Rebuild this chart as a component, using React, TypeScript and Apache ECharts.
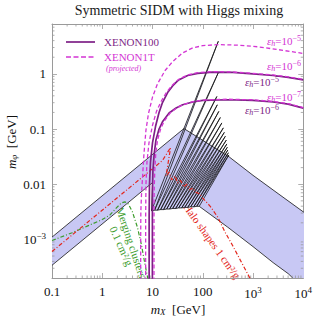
import React, { useEffect, useRef } from 'react';
import * as echarts from 'echarts';

const SERIF = '"Liberation Serif", "Times New Roman", Times, serif';
const FRAME = '#9a9a9a';
const BAND = '#c8c8f4';
const BAND_EDGE = '#151515';
const PURPLE = '#7e1f86';
const MAGENTA = '#d435d4';
const RED = '#e3261c';
const GREEN = '#3c9c2c';
const NAVY = '#262660';

const X_RANGE = [0.1, 1e4];
const Y_RANGE = [2e-4, 8];

const xTickValues = [0.1, 1, 10, 100, 1000, 10000];
const xTickLabels = ['0.1', '1', '10', '100', '{b|10}{s|3}', '{b|10}{s|4}'];
const yTickValues = [1e-3, 1e-2, 0.1, 1];
const yTickLabels = ['{b|10}{s|\u22123}', '0.01', '0.1', '1'];

// SIDM in dwarfs band (0.1 - 10 cm^2/g), [m_X GeV, m_phi GeV]
const bornUpper = [[0.1, 1.1e-3], [42.2, 0.102]];
const classicalUpper = [[42.2, 0.102], [340, 0.031], [1000, 0.0145], [3162, 6.76e-3], [10000, 3.16e-3], [12000, 2.8e-3]];
const bornLower = [[0.1, 3.4e-4], [10, 0.0107]];
// resonance spikes: lower vertices and tips
const spikeBases = [[9.55, 3.31e-3], [11.0, 3.39e-3], [12.6, 3.39e-3], [14.5, 3.47e-3], [16.6, 3.47e-3], [19.1, 3.55e-3], [21.9, 3.55e-3], [25.1, 3.63e-3], [28.8, 3.63e-3], [33.1, 3.72e-3], [38.0, 3.72e-3], [43.7, 3.8e-3], [50.1, 3.8e-3], [57.5, 3.89e-3], [66.1, 3.89e-3], [75.9, 3.98e-3], [85.1, 3.98e-3]];
const spikeTips = [[204, 3.89], [204, 1.05], [191, 0.389], [195, 0.275], [209, 0.209], [224, 0.162], [240, 0.129], [257, 0.105], [269, 0.0871], [282, 0.0741], [295, 0.0631], [302, 0.0537], [309, 0.0468], [316, 0.0417], [324, 0.0372], [331, 0.0339]];
const classicalLower = [[85.1, 3.98e-3], [316, 1.66e-3], [1000, 7.41e-4], [2512, 3.8e-4], [5012, 2.4e-4], [7079, 1.78e-4], [10000, 1.2e-4], [12000, 9e-5]];

// Halo shapes 1 cm^2/g
const haloShapes = [[0.1, 6.03e-4], [15.8, 0.0269], [22.9, 0.0462], [18.6, 0.0141], [21.4, 0.0166], [24.0, 0.012], [28.2, 0.0141], [31.6, 0.0105], [36.3, 0.0117], [41.7, 8.91e-3], [47.9, 0.01], [55.0, 7.94e-3], [63.1, 8.51e-3], [74.1, 7.08e-3], [85.1, 6.76e-3], [100, 5.62e-3], [141, 3.98e-3], [200, 2.51e-3], [282, 1.32e-3], [398, 7.59e-4], [562, 4.17e-4], [708, 2.82e-4], [891, 1.91e-4], [1000, 1.51e-4]];
// Merging clusters 0.1 cm^2/g
const mergingClusters = [[0.1, 9.55e-4], [0.251, 1.32e-3], [0.501, 1.74e-3], [1, 2.29e-3], [1.41, 2.75e-3], [1.91, 3.72e-3], [2.4, 4.57e-3], [2.82, 4.79e-3], [3.31, 4.37e-3], [3.98, 3.16e-3], [5.01, 1.66e-3], [6.03, 7.94e-4], [7.08, 3.55e-4], [7.94, 2.09e-4], [8.71, 1.26e-4]];

// XENON1T (projected), dashed
const x1tEps5 = [[5.82, 1e-4], [5.82, 1e-3], [5.86, 3.16e-3], [6.03, 6.31e-3], [6.31, 0.0126], [6.76, 0.0355], [7.41, 0.0955], [8.32, 0.191], [10, 0.38], [12.6, 0.661], [17.8, 1.15], [25.1, 1.66], [39.8, 2.4], [63.1, 2.95], [100, 3.24], [200, 3.39], [501, 3.31], [1259, 3.09], [3162, 2.75], [10000, 2.34]];
const x1tEps6 = [[7.31, 1e-4], [7.31, 2.51e-3], [7.41, 0.01], [7.76, 0.0251], [8.51, 0.0562], [10, 0.117], [12.0, 0.209], [14.8, 0.316], [19.1, 0.468], [25.1, 0.631], [33.1, 0.794], [50.1, 0.955], [79.4, 1.05], [158, 1.1], [398, 1.08], [1000, 1.02], [2512, 0.955], [5012, 0.881], [10000, 0.794]];
const x1tEps7 = [[10.7, 1e-4], [10.7, 2.51e-3], [10.8, 7.94e-3], [11.1, 0.0178], [11.6, 0.0355], [12.6, 0.0631], [14.5, 0.1], [17.0, 0.138], [22.4, 0.195], [30.2, 0.24], [39.8, 0.275], [63.1, 0.313], [100, 0.335], [316, 0.347], [1000, 0.339], [2512, 0.316], [5012, 0.288], [10000, 0.245]];
// XENON100, solid
const x100Eps5 = [[8.57, 1e-4], [8.57, 2.51e-3], [8.71, 0.01], [9.12, 0.0251], [10, 0.0562], [11.5, 0.112], [13.5, 0.2], [15.8, 0.302], [20.0, 0.457], [25.1, 0.603], [33.1, 0.776], [50.1, 0.933], [79.4, 1.02], [158, 1.07], [398, 1.06], [1000, 1.0], [2512, 0.933], [5012, 0.861], [10000, 0.776]];
const x100Eps6 = [[9.95, 1e-4], [9.95, 2.51e-3], [10, 7.94e-3], [10.2, 0.0178], [10.8, 0.0355], [11.7, 0.0631], [13.5, 0.1], [15.8, 0.135], [21.4, 0.195], [29.5, 0.24], [39.8, 0.275], [63.1, 0.309], [100, 0.331], [316, 0.339], [1000, 0.331], [2512, 0.309], [5012, 0.282], [10000, 0.24]];

const epsLabels = [
  { exp: '\u22125', color: MAGENTA, x: 284, y: 41 },
  { exp: '\u22126', color: MAGENTA, x: 284, y: 66 },
  { exp: '\u22125', color: PURPLE, x: 262, y: 82 },
  { exp: '\u22127', color: MAGENTA, x: 284, y: 97 },
  { exp: '\u22126', color: PURPLE, x: 262, y: 110 },
];

const minorX: number[] = [];
for (let e = -1; e <= 3; e++) for (let k = 2; k <= 9; k++) minorX.push(k * Math.pow(10, e));
const minorY: number[] = [];
for (let e = -4; e <= 0; e++) for (let k = 2; k <= 9; k++) {
  const v = k * Math.pow(10, e);
  if (v > Y_RANGE[0] * 1.01 && v < Y_RANGE[1] * 0.99) minorY.push(v);
}

const pick = (vals: number[], labels: string[]) => (v: number) => {
  const i = vals.findIndex((t) => Math.abs(Math.log10(t / v)) < 1e-6);
  return i < 0 ? '' : labels[i];
};

const tickRich = {
  b: { fontFamily: SERIF, fontSize: 13, color: '#111' },
  s: { fontFamily: SERIF, fontSize: 9, color: '#111', padding: [0, 0, 7, 0] },
};

const axisCommon = (pos: string, showLabel: boolean, fmt?: (v: number) => string) => ({
  type: 'log',
  logBase: 10,
  position: pos,
  axisLine: { show: true, onZero: false, lineStyle: { color: FRAME, width: 1 } },
  axisTick: { show: true, inside: true, length: 5, lineStyle: { color: FRAME, width: 0.8 } },
  splitLine: { show: false },
  minorTick: { show: false },
  axisLabel: showLabel
    ? { show: true, formatter: fmt, fontFamily: SERIF, fontSize: 13, color: '#111', margin: pos === 'bottom' ? 7 : 6, rich: tickRich }
    : { show: false },
});

function epsText(l: { exp: string; color: string; x: number; y: number }) {
  const c = l.color;
  return {
    type: 'text',
    x: l.x,
    y: l.y,
    silent: true,
    style: {
      text: '{e|\u03b5}{h|h}{t|=10}{p|' + l.exp + '}',
      align: 'center',
      verticalAlign: 'middle',
      rich: {
        e: { fontFamily: SERIF, fontStyle: 'italic', fontSize: 11, fill: c },
        h: { fontFamily: SERIF, fontStyle: 'italic', fontSize: 8, fill: c, padding: [5, 0, 0, 0] },
        t: { fontFamily: SERIF, fontSize: 11, fill: c },
        p: { fontFamily: SERIF, fontSize: 8, fill: c, padding: [0, 0, 6, 0] },
      },
    },
  };
}

function plainText(text: string, x: number, y: number, size: number, color: string, rotation = 0, italic = false) {
  return {
    type: 'text', x, y, rotation, silent: true,
    style: { text, fontFamily: SERIF, fontSize: size, fontStyle: italic ? 'italic' : 'normal', fill: color, align: 'center', verticalAlign: 'middle' },
  };
}

const xenonLine = (data: number[][], dashed: boolean) => ({
  type: 'line',
  data,
  showSymbol: false,
  symbol: 'none',
  silent: true,
  clip: true,
  lineStyle: dashed ? { color: MAGENTA, width: 1.3, type: [4, 2.5] } : { color: PURPLE, width: 1.7, type: 'solid' },
});

export default function App() {
  const ref = useRef<HTMLDivElement>(null);
  useEffect(() => {
    const chart = echarts.init(ref.current!, null, { renderer: 'svg' });
    const option = {
      animation: false,
      backgroundColor: '#fff',
      grid: { left: 52, right: 9, top: 24, bottom: 40 },
      xAxis: [
        { ...axisCommon('bottom', true, pick(xTickValues, xTickLabels)), min: X_RANGE[0], max: X_RANGE[1] },
        { ...axisCommon('top', false), min: X_RANGE[0], max: X_RANGE[1] },
      ],
      yAxis: [
        { ...axisCommon('left', true, pick(yTickValues, yTickLabels)), min: Y_RANGE[0], max: Y_RANGE[1] },
        { ...axisCommon('right', false), min: Y_RANGE[0], max: Y_RANGE[1] },
      ],
      series: [
        {
          type: 'custom',
          clip: true,
          silent: true,
          data: [[1, 1]],
          renderItem: (_p: any, api: any) => {
            const c = (p: number[]) => api.coord(p);
            const upper = [...bornUpper, ...classicalUpper.slice(1)];
            const lower = [...bornLower, ...spikeBases, ...classicalLower.slice(1)];
            const poly = [...upper, ...lower.slice().reverse()].map(c);
            const children: any[] = [{ type: 'polygon', shape: { points: poly }, style: { fill: BAND, stroke: 'none' } }];
            const spikes = spikeTips.map((t, i) => [spikeBases[i], t, spikeBases[i + 1]]);
            spikes.forEach((s) => {
              children.push({ type: 'polygon', shape: { points: s.map(c) }, style: { fill: BAND, stroke: 'none' } });
            });
            const ln = (pts: number[][]) => ({ type: 'polyline', shape: { points: pts.map(c) }, style: { stroke: BAND_EDGE, fill: 'none', lineWidth: 0.8 } });
            children.push(ln(upper));
            children.push(ln(lower));
            spikes.forEach((s) => children.push(ln(s)));
            return { type: 'group', children };
          },
        },
        { type: 'line', data: mergingClusters, showSymbol: false, symbol: 'none', silent: true, clip: true, lineStyle: { color: GREEN, width: 1.2, type: [4, 2, 1, 2] } },
        { type: 'line', data: haloShapes, showSymbol: false, symbol: 'none', silent: true, clip: true, lineStyle: { color: RED, width: 1.2, type: [4, 2, 1, 2] } },
        xenonLine(x100Eps5, false),
        xenonLine(x100Eps6, false),
        xenonLine(x1tEps5, true),
        xenonLine(x1tEps6, true),
        xenonLine(x1tEps7, true),
        {
          type: 'custom',
          silent: true,
          clip: false,
          data: [[1, 1]],
          renderItem: (_p: any, api: any) => {
            const children: any[] = [];
            const st = { stroke: FRAME, lineWidth: 0.8 };
            minorX.forEach((x) => {
              const [px, pb] = api.coord([x, Y_RANGE[0]]);
              const [, pt] = api.coord([x, Y_RANGE[1]]);
              children.push({ type: 'line', shape: { x1: px, y1: pb, x2: px, y2: pb - 2.5 }, style: st });
              children.push({ type: 'line', shape: { x1: px, y1: pt, x2: px, y2: pt + 2.5 }, style: st });
            });
            minorY.forEach((y) => {
              const [pl, py] = api.coord([X_RANGE[0], y]);
              const [pr] = api.coord([X_RANGE[1], y]);
              children.push({ type: 'line', shape: { x1: pl, y1: py, x2: pl + 2.5, y2: py }, style: st });
              children.push({ type: 'line', shape: { x1: pr, y1: py, x2: pr - 2.5, y2: py }, style: st });
            });
            return { type: 'group', children };
          },
        },
      ],
      graphic: [
        plainText('Symmetric SIDM with Higgs mixing', 179, 10, 14, '#1a1a1a'),
        {
          type: 'text', x: 178, y: 309, silent: true,
          style: {
            text: '{m|m}{x|X}{t|  [GeV]}', align: 'center', verticalAlign: 'middle',
            rich: {
              m: { fontFamily: SERIF, fontStyle: 'italic', fontSize: 13, fill: '#111' },
              x: { fontFamily: SERIF, fontStyle: 'italic', fontSize: 9, fill: '#111', padding: [6, 0, 0, 0] },
              t: { fontFamily: SERIF, fontSize: 13, fill: '#111' },
            },
          },
        },
        {
          type: 'text', x: 11, y: 142, rotation: Math.PI / 2, silent: true,
          style: {
            text: '{m|m}{x|\u03c6}{t|  [GeV]}', align: 'center', verticalAlign: 'middle',
            rich: {
              m: { fontFamily: SERIF, fontStyle: 'italic', fontSize: 13, fill: '#111' },
              x: { fontFamily: SERIF, fontStyle: 'italic', fontSize: 9, fill: '#111', padding: [6, 0, 0, 0] },
              t: { fontFamily: SERIF, fontSize: 13, fill: '#111' },
            },
          },
        },
        { type: 'line', silent: true, shape: { x1: 66, y1: 42, x2: 95, y2: 42 }, style: { stroke: PURPLE, lineWidth: 1.7 } },
        { type: 'line', silent: true, shape: { x1: 66, y1: 57, x2: 95, y2: 57 }, style: { stroke: MAGENTA, lineWidth: 1.5, lineDash: [5, 2.5] } },
        { type: 'text', x: 104, y: 42, silent: true, style: { text: 'XENON100', fontFamily: SERIF, fontSize: 11, fill: PURPLE, align: 'left', verticalAlign: 'middle' } },
        { type: 'text', x: 104, y: 57, silent: true, style: { text: 'XENON1T', fontFamily: SERIF, fontSize: 11, fill: MAGENTA, align: 'left', verticalAlign: 'middle' } },
        { type: 'text', x: 106, y: 68, silent: true, style: { text: '(projected)', fontFamily: SERIF, fontStyle: 'italic', fontSize: 8, fill: MAGENTA, align: 'left', verticalAlign: 'middle' } },
        ...epsLabels.map(epsText),
        plainText('Merging clusters', 131.5, 242.5, 11, GREEN, -1.25),
        plainText('0.1 cm\u00b2/g', 121.5, 246, 11, GREEN, -1.15),
        plainText('Halo shapes 1 cm\u00b2/g', 212, 241, 11, RED, -0.95),
        plainText('SIDM in dwarfs', 251.5, 196, 13, NAVY, -0.66),
        plainText('0.1 \u2212 10 cm\u00b2/g', 246, 213.5, 13, NAVY, -0.66),
      ],
    };
    chart.setOption(option as any);
    return () => chart.dispose();
  }, []);
  return <div ref={ref} style={{ position: 'fixed', left: 0, top: 0, width: 315, height: 318, background: '#fff' }} />;
}
